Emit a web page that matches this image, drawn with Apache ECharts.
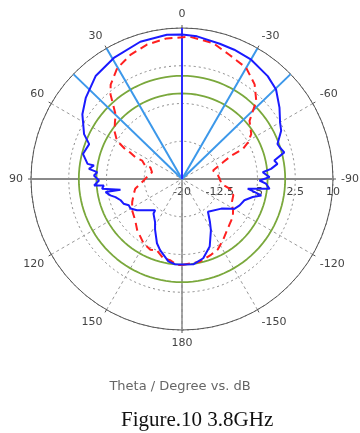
<!DOCTYPE html>
<html><head><meta charset="utf-8">
<script src="https://cdn.jsdelivr.net/npm/echarts@6/dist/echarts.min.js"></script>
<style>html,body{margin:0;padding:0;background:#fff}#c{width:360px;height:433px}</style>
</head><body><div id="c"></div>
<script>
// angle tick labels (degrees) and radial tick labels (dB)
const angleTicks = [-90, -60, -30, 0, 30, 60, 90, 120, 150, 180, 210, 240, 270];
const dbTicks = [-20, -12.5, -5, 2.5, 10];

// blue solid trace: theta (deg) / dB, path order
const blueTheta = [-180,-172.5,-165,-157.7,-150.6,-147,-141.6,-138.4,-126.9,-119.4,-114.6,-108.8,-104.3,-101.7,-98.4,-96.4,-93.2,-91.1,-88.8,-85.2,-83.5,-81,-78.7,-75.4,-72,-69.9,-64.1,-60,-53.8,-46.4,-39.8,-30.1,-22,-15.6,-6,0,6,16.9,29.4,40,49.9,57,65.4,69.4,75.8,80.9,81.3,83.8,85.4,87.7,91,94.2,94.7,97,99.9,99.7,102.9,105.2,109.1,112.9,116.3,119.8,124.8,139.4,140.5,148,152,158.7,162.9,170.6,175.3,180];
const blueDb =    [-3.0,-2.9,-3.7,-5.5,-8.3,-9.8,-11.7,-11.7,-10.2,-8.0,-7.4,-6.9,-5.5,-3.9,-6.8,-2.5,-3.3,-4.6,-2.6,-3.9,-2.2,-0.8,-1.3,1.0,0.4,0.2,1.9,2.5,4.0,5.8,6.6,7.4,7.7,7.9,8.5,8.7,8.8,8.5,7.6,6.7,5.0,3.6,1.4,-0.3,0.3,-1.0,-2.3,-1.4,-3.1,-2.5,-3.5,-2.5,-4.4,-4.0,-7.6,-4.6,-5.4,-6.3,-7.1,-7.4,-8.2,-8.2,-9.1,-11.8,-11.1,-9.9,-8.6,-6.3,-5.2,-3.4,-3.0,-3.0];

// red dashed trace
const redTheta = [-180,-167.8,-158.8,-153.1,-146.1,-133,-126.7,-121.5,-116.5,-107.8,-102.6,-96.9,-90,-84.5,-74.8,-67.9,-64.7,-63.8,-61,-57,-49.3,-43.6,-37.5,-30,-21,-12.9,-3.2,6.2,14.6,22.6,30.3,37.1,40.2,45.8,50,54.8,59.5,62.7,63,65.1,65.3,70,69.8,77.4,87,92.2,101.8,106.9,114.8,122,131.4,138.7,149.2,155.9,160.5,166.8,171.6,176.5,180];
const redDb =    [-2.9,-3.2,-3.9,-4.3,-5.4,-7.0,-7.4,-8.1,-9.0,-9.3,-9.8,-12.1,-12.5,-12.8,-13.6,-11.2,-9.2,-6.5,-5.0,-3.6,-2.3,1.4,3.7,5.5,6.4,7.7,8.3,8.1,7.6,6.7,5.5,3.5,2.0,-1.6,-2.6,-3.6,-5.0,-7.5,-8.5,-9.8,-11.3,-12.2,-13.3,-13.9,-13.0,-12.4,-10.5,-10.0,-9.1,-8.3,-7.6,-6.5,-5.1,-4.6,-5.0,-3.8,-3.7,-2.9,-2.9];

// reference level circles (dB) and beam marker angles (deg)
const greenLevels = [0.5, -3];
const beamAngles = [30, 46, -30, -46];
const mainMarker = [0];

const toAx = t => (t < -90 ? t + 360 : t);
const rMin = dbTicks[0], rMax = dbTicks[dbTicks.length - 1];

const series = [];
// axis cross
series.push({type:'line',coordinateSystem:'polar',data:[[rMax,90],[rMin,90],[rMax,-90]],symbol:'none',lineStyle:{color:'#8a8a8a',width:2},z:3,silent:true});
series.push({type:'line',coordinateSystem:'polar',data:[[rMin,0],[rMax,180]],symbol:'none',lineStyle:{color:'#8a8a8a',width:1.5},z:3,silent:true});
greenLevels.forEach(L => {
  const pts = [];
  for (let a = -90; a <= 270; a += 3) pts.push([L, a]);
  series.push({type:'line',coordinateSystem:'polar',data:pts,symbol:'none',lineStyle:{color:'#7aa83c',width:1.8},z:4,silent:true});
});
beamAngles.forEach(a => {
  series.push({type:'line',coordinateSystem:'polar',data:[[rMin,toAx(a)],[rMax,toAx(a)]],symbol:'none',lineStyle:{color:'#3c98ea',width:2},z:5,silent:true});
});
mainMarker.forEach(a => {
  series.push({type:'line',coordinateSystem:'polar',data:[[rMin,toAx(a)],[rMax,toAx(a)]],symbol:'none',lineStyle:{color:'#2a2aff',width:2},z:6,silent:true});
});
series.push({type:'line',coordinateSystem:'polar',data:redTheta.map((t,i)=>[redDb[i],toAx(t)]),symbol:'none',lineStyle:{color:'#ff2020',width:2,type:[8,5]},z:7});
series.push({type:'line',coordinateSystem:'polar',data:blueTheta.map((t,i)=>[blueDb[i],toAx(t)]),symbol:'none',lineStyle:{color:'#1a1aff',width:2},z:8});

const chart = echarts.init(document.getElementById('c'), null, {renderer:'canvas'});
chart.setOption({
  animation:false,
  backgroundColor:'#fff',
  title:[
    {text:'Theta / Degree vs. dB',left:'center',top:375,textStyle:{fontFamily:'DejaVu Sans',fontSize:13,fontWeight:'normal',color:'#666'}},
    {text:'Figure.10 3.8GHz',left:116,top:405,textStyle:{fontFamily:'Liberation Serif',fontSize:21,fontWeight:'normal',color:'#111'}}
  ],
  polar:{center:[182,179],radius:151},
  angleAxis:{
    type:'value',min:angleTicks[0],max:angleTicks[angleTicks.length-1],interval:30,startAngle:0,clockwise:false,
    axisLine:{lineStyle:{color:'#555',width:1}},
    axisTick:{show:true,length:3,lineStyle:{color:'#555'}},
    axisLabel:{margin:8,color:'#444',fontFamily:'DejaVu Sans',fontSize:11,
      formatter:v => (v === 270 ? '' : String(v > 180 ? v - 360 : v))},
    splitLine:{show:true,lineStyle:{color:'#999',type:[3,3],width:1}}
  },
  radiusAxis:{
    type:'value',min:rMin,max:rMax,interval:7.5,
    axisLine:{show:false},axisTick:{show:false},
    axisLabel:{color:'#444',fontFamily:'DejaVu Sans',fontSize:11,margin:-19,showMinLabel:true,showMaxLabel:true},
    splitLine:{show:true,lineStyle:{color:'#888',type:[2,3],width:1}}
  },
  series:series
});
</script></body></html>
